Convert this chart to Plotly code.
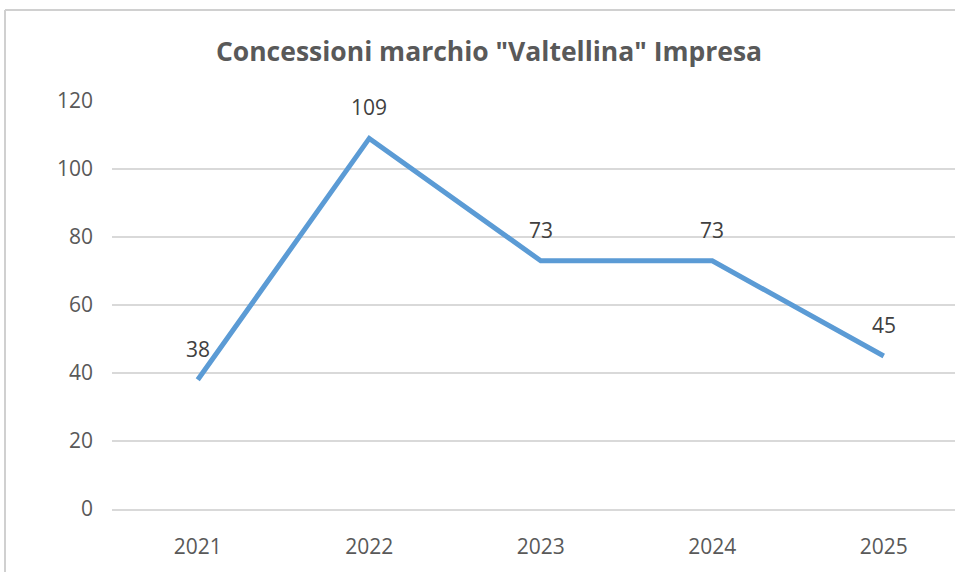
import plotly.graph_objects as go

years = ["2021", "2022", "2023", "2024", "2025"]
concessioni = [38, 109, 73, 73, 45]
y_ticks = [0, 20, 40, 60, 80, 100, 120]

TEXT = "#595959"
GRID = "#d9d9d9"
FONT = "Open Sans"

fig = go.Figure()
fig.add_trace(go.Scatter(
    x=years, y=concessioni, mode="lines",
    line=dict(color="#5b9bd5", width=5),
    hoverinfo="x+y", showlegend=False,
))

for i, v in enumerate(concessioni):
    fig.add_annotation(x=i, y=v, text=str(v), showarrow=False, yshift=31,
                       font=dict(family=FONT, size=21, color="#404040"))

# chart frame (left and top border)
fig.add_shape(type="line", xref="paper", yref="paper",
              x0=(5 - 112) / 843, x1=(5 - 112) / 843,
              y0=(509 - 10) / 408, y1=(509 - 580) / 408,
              line=dict(color="#d0d0d0", width=2))
fig.add_shape(type="line", xref="paper", yref="paper",
              x0=(5 - 112) / 843, x1=(960 - 112) / 843,
              y0=(509 - 10) / 408, y1=(509 - 10) / 408,
              line=dict(color="#d0d0d0", width=2))

fig.update_layout(
    width=955, height=572,
    margin=dict(l=112, r=0, t=101, b=63),
    paper_bgcolor="white", plot_bgcolor="white",
    title=dict(text="<b>Concessioni marchio \"Valtellina\" Impresa</b>",
               x=489 / 955, xref="container", xanchor="center",
               y=1 - 52 / 572, yref="container", yanchor="middle",
               font=dict(family=FONT, size=26.5, color=TEXT)),
    font=dict(family=FONT, color=TEXT),
)
fig.update_xaxes(
    type="category", range=[-0.5, -0.5 + 843 / 171.5],
    showgrid=False, showline=True, linecolor=GRID, linewidth=2,
    ticks="", tickfont=dict(size=21, color=TEXT), ticklabelstandoff=18,
)
fig.update_yaxes(
    range=[0, 120], tickvals=y_ticks, showgrid=True, gridcolor=GRID, gridwidth=2,
    zeroline=False, showline=False, ticks="",
    tickfont=dict(size=21, color=TEXT), ticklabelstandoff=18,
)

fig.write_html("out.html", config={"displayModeBar": False},
               post_script="document.body.style.margin='0';")
